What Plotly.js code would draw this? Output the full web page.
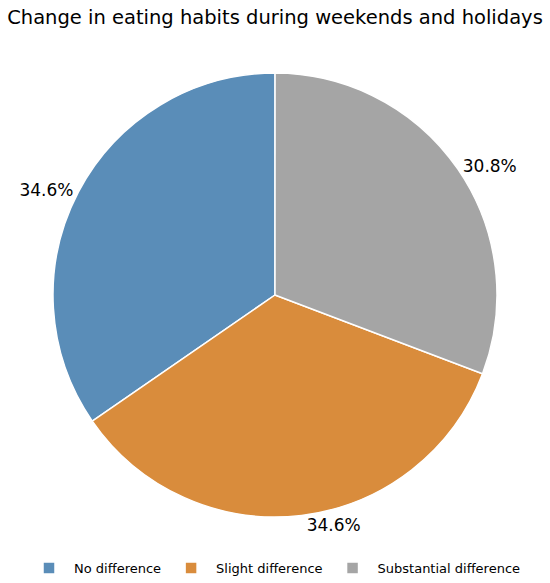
<!DOCTYPE html>
<html>
<head>
<meta charset="utf-8">
<script src="https://cdn.plot.ly/plotly-3.0.1.min.js"></script>
<style>html,body{margin:0;padding:0;background:#fff;}#chart{width:550px;height:583px;}</style>
</head>
<body>
<div id="chart"></div>
<script>
var categories = ["No difference", "Slight difference", "Substantial difference"];
var counts = [9, 9, 8];
var colors = ["#5a8db8", "#d98c3c", "#a5a5a5"];

var trace = {
  type: "pie",
  labels: categories,
  values: counts,
  sort: false,
  direction: "counterclockwise",
  rotation: -124.6,
  marker: {colors: colors, line: {color: "#ffffff", width: 1.5}},
  textinfo: "percent",
  texttemplate: "%{percent:.1%}",
  textposition: "outside",
  outsidetextfont: {family: "DejaVu Sans", size: 17, color: "#000"},
  hoverinfo: "label+percent",
  domain: {x: [53/550, 497/550], y: [1 - 517/583, 1 - 73/583]},
  automargin: false
};

var layout = {
  width: 550,
  height: 583,
  margin: {l: 0, r: 0, t: 0, b: 0},
  paper_bgcolor: "#fff",
  font: {family: "DejaVu Sans", color: "#000"},
  title: {text: "Change in eating habits during weekends and holidays", font: {family: "DejaVu Sans", size: 19.5, color: "#000"}, x: 0.5, xanchor: "center", y: 1 - 17/583, yanchor: "middle"},
  showlegend: true,
  legend: {orientation: "h", x: 0.5, xanchor: "center", y: 1 - 568/583, yanchor: "middle", itemwidth: 40, font: {family: "DejaVu Sans", size: 13, color: "#000"}, traceorder: "normal"}
};

Plotly.newPlot("chart", [trace], layout, {displayModeBar: false, staticPlot: true});
</script>
</body>
</html>
